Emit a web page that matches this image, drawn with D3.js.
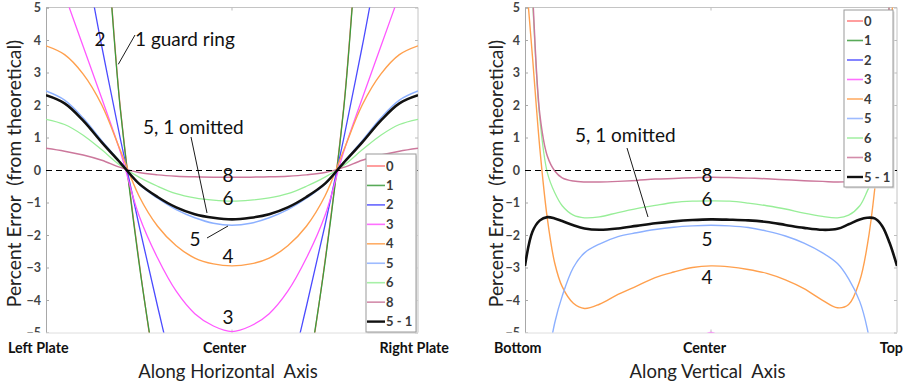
<!DOCTYPE html>
<html><head><meta charset="utf-8">
<script src="https://cdn.jsdelivr.net/npm/d3@7"></script>
<style>
html,body{margin:0;padding:0;background:#fff;}
svg{display:block;}
text{font-family:Lato,"Open Sans",sans-serif;}
</style></head>
<body>
<svg id="c" width="912" height="386"></svg>
<script>
// ---------- DATA ----------
const seriesNames = ["0","1","2","3","4","5","6","8","5 - 1"];
const yTicks = [-5,-4,-3,-2,-1,0,1,2,3,4,5];
const hEndLabels = ["Left Plate","Center","Right Plate"];
const vEndLabels = ["Bottom","Center","Top"];

// horizontal axis positions (0 = left plate, 1 = right plate)
const tH = [0,0.05,0.1,0.15,0.2,0.25,0.3,0.35,0.4,0.45,0.5,0.55,0.6,0.65,0.7,0.75,0.8,0.85,0.9,0.95,1];
const h0  = [15.2,14.1,11.6,8.4,1.9,-2.8,-6.7,-10.1,-12.1,-13.1,-13.6,-13.1,-12.1,-10.1,-6.7,-2.8,1.9,8.4,11.6,14.1,15.2];
const h1  = [15,14,11.5,8.3,1.85,-2.85,-6.6,-10,-12,-13,-13.5,-13,-12,-10,-6.6,-2.85,1.85,8.3,11.5,14,15];
const h2  = [10.5,8.5,6.65,3.8,0.95,-1.7,-4.2,-6.5,-8.2,-9.2,-9.5,-9.2,-8.2,-6.5,-4.2,-1.7,0.95,3.8,6.65,8.5,10.5];
const h3  = [7.0,5.4,3.8,2.2,0.55,-1.4,-2.71,-3.73,-4.42,-4.8,-4.97,-4.8,-4.42,-3.73,-2.71,-1.4,0.55,2.2,3.8,5.4,7.0];
const h4  = [3.82,3.55,2.95,2.0,0.6,-0.8,-1.73,-2.33,-2.71,-2.89,-2.95,-2.89,-2.71,-2.33,-1.73,-0.8,0.6,2.0,2.95,3.55,3.82];
const h5  = [2.43,2.15,1.6,0.9,0.24,-0.44,-0.87,-1.22,-1.47,-1.64,-1.7,-1.64,-1.47,-1.22,-0.87,-0.44,0.24,0.9,1.6,2.15,2.43];
const h6  = [1.56,1.4,1.07,0.62,0.14,-0.22,-0.5,-0.73,-0.86,-0.93,-0.96,-0.93,-0.86,-0.73,-0.5,-0.22,0.14,0.62,1.07,1.4,1.56];
const h8  = [0.67,0.58,0.46,0.3,0.08,-0.08,-0.15,-0.19,-0.21,-0.22,-0.22,-0.22,-0.21,-0.19,-0.15,-0.08,0.08,0.3,0.46,0.58,0.67];
const h51 = [2.3,2.05,1.52,0.85,0.22,-0.42,-0.83,-1.15,-1.36,-1.47,-1.52,-1.47,-1.36,-1.15,-0.83,-0.42,0.22,0.85,1.52,2.05,2.3];

// vertical axis positions (0 = bottom, 1 = top)
const tV = [0,0.02,0.04,0.06,0.08,0.1,0.13,0.16,0.2,0.25,0.3,0.35,0.4,0.45,0.5,0.55,0.6,0.65,0.7,0.75,0.8,0.84,0.87,0.9,0.92,0.94,0.96,0.98,1];
const v0  = [-62,-55,-48,-42,-37,-33,-29,-26,-23,-20.5,-18.5,-17,-15.8,-15,-14.7,-15,-15.8,-17,-18.5,-20.5,-23,-26,-29,-33,-37,-42,-48,-55,-62];
const v1  = [-60,-53,-46,-40,-35,-31,-27,-24,-21.5,-19,-17.2,-15.8,-14.8,-14.2,-14,-14.2,-14.8,-15.8,-17.2,-19,-21.5,-24,-27,-31,-35,-40,-46,-53,-60];
const v2  = [-40,-35,-30,-26,-23,-20,-17,-15,-13,-11.5,-10.5,-9.8,-9.3,-9.1,-9.0,-9.1,-9.3,-9.8,-10.5,-11.5,-13,-15,-17,-20,-23,-26,-30,-35,-40];
const v3  = [-30,-25,-20,-16,-13,-11,-9,-8,-7,-6.3,-5.9,-5.6,-5.45,-5.3,-5.0,-5.3,-5.45,-5.6,-5.9,-6.3,-7,-8,-9,-11,-13,-16,-20,-25,-30];
const v4  = [6.3,3.5,0.65,-1.49,-2.87,-3.59,-4.1,-4.26,-4.13,-3.83,-3.57,-3.31,-3.14,-3.0,-2.95,-2.98,-3.06,-3.18,-3.38,-3.65,-4.01,-4.24,-4.14,-3.4,-2.33,-0.6,2.1,4.3,6.0];
const v5  = [-12,-10,-8,-6,-4.7,-3.88,-3.0,-2.55,-2.28,-2.05,-1.93,-1.83,-1.76,-1.72,-1.7,-1.72,-1.77,-1.88,-2.03,-2.25,-2.55,-2.88,-3.35,-4.05,-4.88,-6.3,-8.5,-10.5,-12];
const v6  = [10,5.3,1.56,-0.08,-0.7,-1.1,-1.39,-1.47,-1.44,-1.31,-1.19,-1.09,-1.0,-0.96,-0.95,-0.96,-1.02,-1.1,-1.2,-1.33,-1.43,-1.47,-1.39,-1.1,-0.65,-0.08,1.56,5.3,10];
const v8  = [10,5.5,1.7,0.43,-0.03,-0.24,-0.34,-0.37,-0.37,-0.35,-0.32,-0.28,-0.26,-0.24,-0.22,-0.23,-0.25,-0.27,-0.3,-0.33,-0.35,-0.37,-0.35,-0.25,-0.05,0.4,1.6,5.3,10];
const v51 = [-2.95,-1.9,-1.55,-1.45,-1.49,-1.57,-1.7,-1.8,-1.84,-1.8,-1.72,-1.64,-1.58,-1.54,-1.52,-1.53,-1.55,-1.6,-1.69,-1.78,-1.84,-1.81,-1.67,-1.52,-1.47,-1.49,-1.72,-2.24,-2.95];

const colors = ["#ff7272","#3c9c3c","#4b4bff","#ff58ff","#ffa04e","#8cb0ff","#98ee98","#cc789c","#111111"];
const widths = [1.3,1.3,1.3,1.3,1.4,1.4,1.3,1.5,2.6];

// ---------- LAYOUT ----------
const svg = d3.select("#c");
const yTop = 7.5, yBot = 332.5;

function panel(opts){
  const {id, x0, x1, tArr, vals, endLabels, title, legend, notes, ylabX} = opts;
  const x = d3.scaleLinear().domain([0,1]).range([x0,x1]);
  const y = d3.scaleLinear().domain([-5,5]).range([yBot,yTop]);
  const g = svg.append("g");

  g.append("clipPath").attr("id","clip"+id).append("rect")
    .attr("x",x0).attr("y",yTop).attr("width",x1-x0).attr("height",yBot-yTop);
  // clip for axis group (in axis-local coords: translated by x0)
  g.append("clipPath").attr("id","clipT"+id).append("rect")
    .attr("x",-45).attr("y",0).attr("width",50).attr("height",332.5);

  // frame
  g.append("line").attr("x1",x0).attr("x2",x1).attr("y1",yTop).attr("y2",yTop).attr("stroke","#c4c4c4");
  g.append("line").attr("x1",x1).attr("x2",x1).attr("y1",yTop).attr("y2",yBot).attr("stroke","#c4c4c4");
  g.append("line").attr("x1",x0).attr("x2",x1).attr("y1",yBot+0.5).attr("y2",yBot+0.5).attr("stroke","#dedede");

  // y axis
  const ax = d3.axisLeft(y).tickValues(yTicks).tickSize(-3).tickPadding(5).tickFormat(d3.format("d"));
  const axg = g.append("g").attr("transform",`translate(${x0},0)`).attr("clip-path",`url(#clipT${id})`).call(ax);
  axg.select(".domain").attr("stroke","#a8a8a8");
  axg.selectAll(".tick line").attr("stroke","#a8a8a8");
  axg.selectAll(".tick text").attr("fill","#444").style("font-size","12.5px").style("font-weight","700");
  // right ticks
  const axr = d3.axisRight(y).tickValues(yTicks).tickSize(-3).tickFormat("");
  const arg = g.append("g").attr("transform",`translate(${x1},0)`).call(axr);
  arg.select(".domain").remove();
  arg.selectAll(".tick line").attr("stroke","#bdbdbd");
  // center tick on x
  g.append("line").attr("x1",x(0.5)).attr("x2",x(0.5)).attr("y1",yBot).attr("y2",yBot-3).attr("stroke","#bdbdbd");
  g.append("line").attr("x1",x(0.5)).attr("x2",x(0.5)).attr("y1",yTop).attr("y2",yTop+3).attr("stroke","#bdbdbd");

  // curves
  const line = d3.line().x((d,i)=>x(tArr[i])).y(d=>y(d)).curve(d3.curveCatmullRom.alpha(0.5));
  const cg = g.append("g").attr("clip-path",`url(#clip${id})`);
  vals.forEach((arr,k)=>{
    cg.append("path").attr("d",line(arr)).attr("fill","none")
      .attr("stroke",colors[k]).attr("stroke-width",widths[k]).attr("stroke-linejoin","round");
  });
  // zero line
  cg.append("line").attr("x1",x0).attr("x2",x1).attr("y1",y(0)+0.5).attr("y2",y(0)+0.5)
    .attr("stroke","#000").attr("stroke-width",1).attr("stroke-dasharray","6,4").attr("shape-rendering","crispEdges");

  // notes
  notes.forEach(n=>{
    if(n.line) g.append("line").attr("x1",n.line[0]).attr("y1",n.line[1]).attr("x2",n.line[2]).attr("y2",n.line[3])
      .attr("stroke","#000").attr("stroke-width",0.9);
    if(n.text) g.append("text").attr("x",n.x).attr("y",n.y).attr("text-anchor",n.anchor||"middle")
      .style("font-size","19px").attr("fill","#111").text(n.text);
  });

  // legend
  const lg = g.append("g");
  lg.append("rect").attr("x",legend.x+1.5).attr("y",legend.y+1.5).attr("width",legend.w).attr("height",legend.h)
    .attr("fill","#dcdcdc");
  lg.append("rect").attr("x",legend.x).attr("y",legend.y).attr("width",legend.w).attr("height",legend.h)
    .attr("fill","#fff").attr("stroke","#9a9a9a").attr("stroke-width",1);
  seriesNames.forEach((nm,k)=>{
    const yy = legend.y0 + k*legend.dy;
    lg.append("line").attr("x1",legend.lx0).attr("x2",legend.lx1).attr("y1",yy).attr("y2",yy)
      .attr("stroke",colors[k]).attr("stroke-width",k===8?2.4:1.6).attr("opacity",k===8?1:0.85);
    lg.append("text").attr("x",legend.lx1+1).attr("y",yy+4.5).style("font-size","13px").style("font-weight","700")
      .attr("fill","#3a3a3a").text(nm);
  });

  // x end labels
  const ex = [ {x:opts.endX[0],a:"start"}, {x:opts.endX[1],a:"middle"}, {x:opts.endX[2],a:"end"} ];
  endLabels.forEach((s,i)=>{
    g.append("text").attr("x",ex[i].x).attr("y",353).attr("text-anchor",ex[i].a)
      .style("font-size","14.3px").style("font-weight","700").attr("fill","#111").text(s);
  });
  g.append("text").attr("x",opts.titleX).attr("y",378).attr("text-anchor","middle")
    .style("font-size","18.5px").attr("fill","#222").style("white-space","pre").text(title);
  g.append("text").attr("transform",`translate(${ylabX},173.5) rotate(-90)`).attr("text-anchor","middle")
    .style("font-size","19.3px").attr("fill","#222").style("white-space","pre").text("Percent Error  (from theoretical)");
}

panel({
  id:"L", x0:46, x1:418, tArr:tH,
  vals:[h0,h1,h2,h3,h4,h5,h6,h8,h51],
  endLabels:hEndLabels, endX:[8,224.5,449], title:"Along Horizontal  Axis", titleX:228, ylabX:21,
  legend:{x:366,y:154,w:50,h:178,y0:166,dy:19.45,lx0:367,lx1:385},
  notes:[
    {text:"2", x:100, y:46},
    {text:"1 guard ring", x:135, y:46, anchor:"start", line:[135,35,118.3,64.3]},
    {text:"5, 1 omitted", x:143, y:134, anchor:"start", line:[191,137,207,213]},
    {text:"8", x:228, y:182},
    {text:"6", x:228, y:205},
    {text:"5", x:195, y:246, line:[207,238,228,226]},
    {text:"4", x:228, y:263},
    {text:"3", x:228, y:324}
  ]
});

panel({
  id:"R", x0:525, x1:897, tArr:tV,
  vals:[v0,v1,v2,v3,v4,v5,v6,v8,v51],
  endLabels:vEndLabels, endX:[494,704.5,903], title:"Along Vertical  Axis", titleX:707.5, ylabX:503,
  legend:{x:844,y:10,w:49,h:177,y0:21,dy:19.5,lx0:847,lx1:863},
  notes:[
    {text:"5, 1 omitted", x:575, y:142, anchor:"start", line:[627,148,648,217]},
    {text:"8", x:707, y:182},
    {text:"6", x:707, y:206},
    {text:"5", x:707, y:246},
    {text:"4", x:707, y:284}
  ]
});
</script>
</body></html>
